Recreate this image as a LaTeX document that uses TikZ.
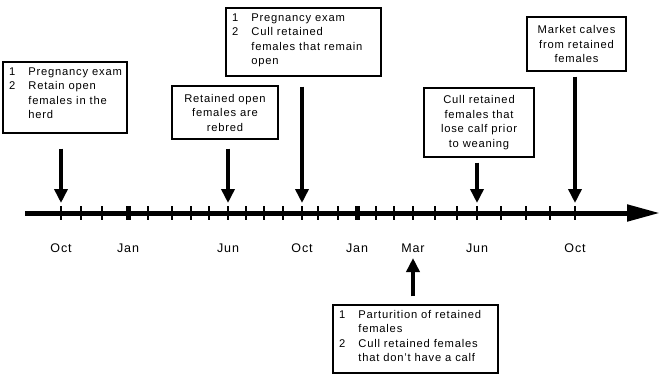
\documentclass[tikz,border=0pt]{standalone}
\usepackage{fontspec}
\setmainfont{Liberation Sans}[LetterSpace=7]
\usetikzlibrary{arrows.meta}
\begin{document}
\begin{tikzpicture}[x=1pt,y=-1pt,
  box/.style={draw=black,line width=1.2pt,fill=white,inner sep=0pt,align=center,
    font=\fontsize{11.2}{14.5}\selectfont},
  lst/.style={anchor=north west,inner sep=0pt,font=\fontsize{11.2}{14.5}\selectfont},
  ev/.style={line width=3.5pt,-{Triangle[length=14pt,width=13pt]}},
  month/.style={font=\fontsize{12.5}{14}\selectfont,anchor=base},
  tick/.style={line width=2pt}]
\useasboundingbox (0,0) rectangle (660,375);
% boxes
\node[box,minimum width=124pt,minimum height=71pt] (b1) at (65,97.5) {};
\node[lst] (t1) at (9,65) {%
  \begin{tabular}{@{}l@{\hspace{13pt}}l@{}}1&Pregnancy exam\\2&Retain open\\&females in the\\&herd\end{tabular}};
\node[box,minimum width=106pt,minimum height=53pt] (b2) at (225,112.5) {Retained open\\females are\\rebred};
\node[box,minimum width=155pt,minimum height=68pt] (b3) at (303.5,42) {};
\node[lst] (t3) at (232,11) {%
  \begin{tabular}{@{}l@{\hspace{13pt}}l@{}}1&Pregnancy exam\\2&Cull retained\\&females that remain\\&open\end{tabular}};
\node[box,minimum width=110pt,minimum height=69pt] (b4) at (479,122.5) {Cull retained\\females that\\lose calf prior\\to weaning};
\node[box,minimum width=99pt,minimum height=54pt] (b5) at (576.5,44) {Market calves\\from retained\\females};
\node[box,minimum width=165pt,minimum height=68pt] (b6) at (415.5,339) {};
\node[lst] (t6) at (339,308) {%
  \begin{tabular}{@{}l@{\hspace{13pt}}l@{}}1&Parturition of retained\\&females\\2&Cull retained females\\&that don't have a calf\end{tabular}};
% timeline
\coordinate (ls) at (25,213);
\coordinate (le) at (660,213);
\draw[line width=5pt,-{Triangle[length=33pt,width=16pt]}] (ls) -- (le);
\foreach \x in {61,81,102,148,172,191,209,228,246,264,283,302,318,338,376,394,413,435,457,477,501,526,550,575}
  \draw[tick] (\x,206) -- (\x,220);
\foreach \x in {128,357}
  \draw[line width=5pt] (\x,206) -- (\x,220);
% event arrow end points
\coordinate (a1) at (61,203);
\coordinate (a2) at (228,203);
\coordinate (a3) at (302,203);
\coordinate (a4) at (477,203);
\coordinate (a5) at (575,203);
% months
\node[month] (m1) at (61,252) {Oct};
\node[month] (m2) at (128,252) {Jan};
\node[month] (m3) at (228,252) {Jun};
\node[month] (m4) at (302,252) {Oct};
\node[month] (m5) at (357,252) {Jan};
\node[month] (m6) at (413,252) {Mar};
\node[month] (m7) at (477,252) {Jun};
\node[month] (m8) at (575,252) {Oct};
\coordinate (a6) at (413,258);
% event arrows
\draw[ev] ([yshift=-15pt]b1.south -| a1) -- (a1);
\draw[ev] ([yshift=-9pt]b2.south -| a2) -- (a2);
\draw[ev] ([yshift=-10pt]b3.south -| a3) -- (a3);
\draw[ev] ([yshift=-5pt]b4.south -| a4) -- (a4);
\draw[ev] ([yshift=-5pt]b5.south -| a5) -- (a5);
\draw[ev] ([yshift=8pt]b6.north -| a6) -- (a6);
\end{tikzpicture}
\end{document}
